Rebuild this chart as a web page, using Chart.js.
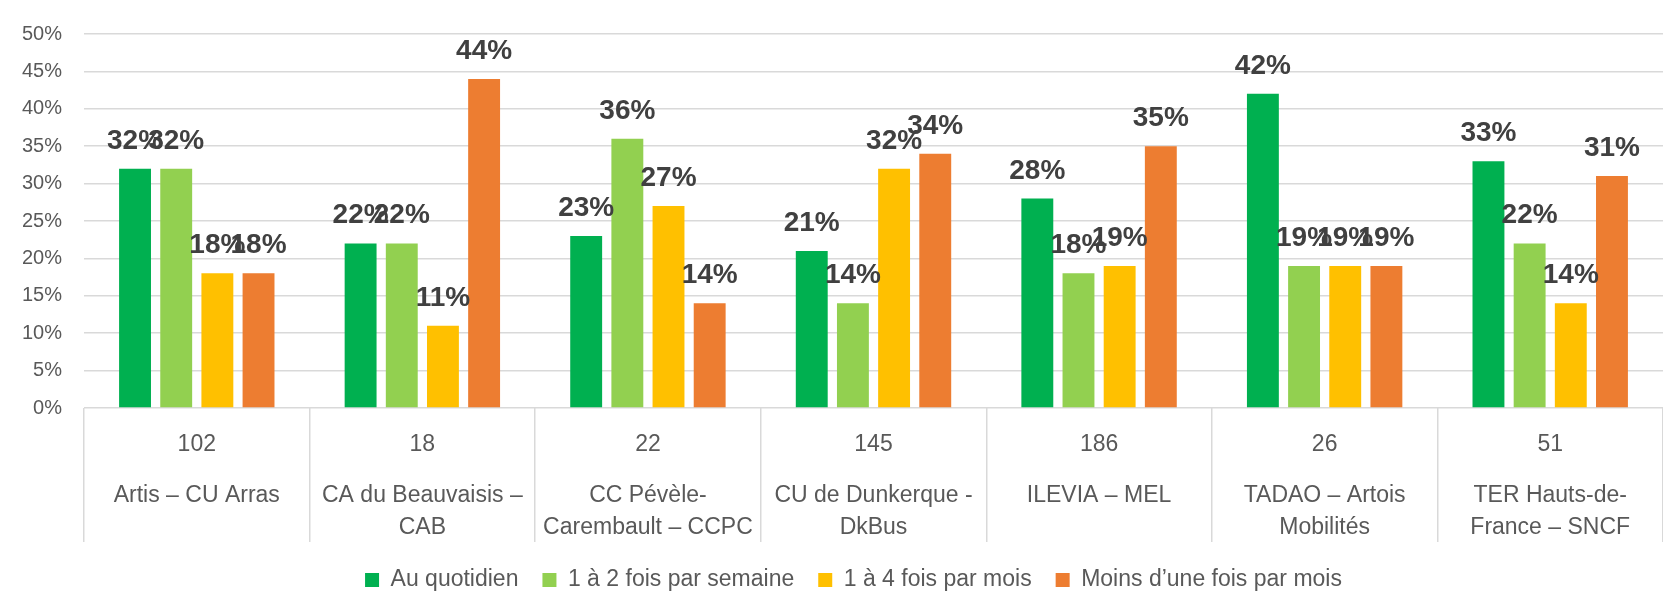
<!DOCTYPE html>
<html>
<head>
<meta charset="utf-8">
<script src="https://cdn.jsdelivr.net/npm/chart.js@4/dist/chart.umd.min.js"></script>
<style>
    html, body { margin: 0; padding: 0; background: #ffffff; }
    #wrap { width: 1663px; height: 591px; }
</style>
</head>
<body>
<div id="wrap"><canvas id="chart"></canvas></div>
<script>
const respondents = ['102', '18', '22', '145', '186', '26', '51'];
const networks = [
    'Artis – CU Arras',
    ['CA du Beauvaisis –', 'CAB'],
    ['CC Pévèle-', 'Carembault – CCPC'],
    ['CU de Dunkerque -', 'DkBus'],
    'ILEVIA – MEL',
    ['TADAO – Artois', 'Mobilités'],
    ['TER Hauts-de-', 'France – SNCF']
];
const seriesNames = ['Au quotidien', '1 à 2 fois par semaine', '1 à 4 fois par mois', 'Moins d\u2019une fois par mois'];
const daily   = [32, 22, 23, 21, 28, 42, 33];
const weekly  = [32, 22, 36, 14, 18, 19, 22];
const monthly = [18, 11, 27, 32, 19, 19, 14];
const rarely  = [18, 44, 14, 34, 35, 19, 31];
const yTicks = [0, 5, 10, 15, 20, 25, 30, 35, 40, 45, 50];

const colors = ['#00B050', '#92D050', '#FFC000', '#ED7D31'];
const font = "'Liberation Sans', Arial, sans-serif";
const gridColor = '#d9d9d9';

// values printed above each bar
const barLabels = {
    id: 'barLabels',
    afterDatasetsDraw(chart) {
        const ctx = chart.ctx;
        ctx.save();
        ctx.font = 'bold 28px ' + font;
        ctx.fillStyle = '#404040';
        ctx.textAlign = 'center';
        ctx.textBaseline = 'alphabetic';
        chart.data.datasets.forEach((ds, i) => {
            chart.getDatasetMeta(i).data.forEach((bar, j) => {
                ctx.fillText(ds.data[j] + '%', bar.x, bar.y - 20);
            });
        });
        ctx.restore();
    }
};

// legend without the extra space Chart.js keeps below it, nudged right
const tightLegend = {
    id: 'tightLegend',
    beforeLayout(chart) {
        const lg = chart.legend;
        if (lg && !lg._tight) {
            const fit = lg.fit;
            lg.fit = function() {
                fit.call(this);
                this.height -= 10.5;
            };
            lg._tight = true;
        }
    },
    afterLayout(chart) {
        if (chart.legend) {
            chart.legend.left += 44;
        }
    }
};

new Chart(document.getElementById('chart'), {
    type: 'bar',
    plugins: [barLabels, tightLegend],
    data: {
        labels: respondents,
        datasets: [daily, weekly, monthly, rarely].map((d, i) => ({
            label: seriesNames[i],
            data: d,
            backgroundColor: colors[i],
            categoryPercentage: 0.73,
            barPercentage: 0.775
        }))
    },
    options: {
        responsive: true,
        maintainAspectRatio: false,
        animation: false,
        layout: {
            padding: { top: 19, left: 0, right: 0, bottom: 0 }
        },
        plugins: {
            tooltip: { enabled: false },
            legend: {
                position: 'bottom',
                labels: {
                    boxWidth: 14,
                    boxHeight: 14,
                    padding: 24,
                    color: '#595959',
                    font: { family: font, size: 23 }
                }
            }
        },
        scales: {
            y: {
                min: 0,
                max: 50,
                afterBuildTicks(scale) {
                    scale.ticks = yTicks.map(v => ({ value: v }));
                },
                ticks: {
                    padding: 22,
                    color: '#595959',
                    font: { family: font, size: 20 },
                    callback: v => v + '%'
                },
                grid: {
                    color: gridColor,
                    lineWidth: 1.5,
                    drawTicks: false
                },
                border: { display: false },
                afterFit(scale) {
                    scale.width = 84;
                }
            },
            x: {
                weight: 0,
                offset: true,
                ticks: {
                    padding: -111,
                    autoSkip: false,
                    maxRotation: 0,
                    color: '#595959',
                    font: { family: font, size: 23, lineHeight: 1.2 }
                },
                grid: {
                    offset: true,
                    drawOnChartArea: false,
                    drawTicks: true,
                    tickLength: 134,
                    lineWidth: 1.5,
                    color: ctx => ctx.index === respondents.length ? 'rgba(0,0,0,0)' : gridColor
                },
                border: { display: false },
                afterFit(scale) {
                    scale.height = 48;
                }
            },
            x2: {
                type: 'category',
                position: 'bottom',
                weight: 1,
                labels: networks,
                offset: true,
                ticks: {
                    padding: 24,
                    autoSkip: false,
                    maxRotation: 0,
                    color: '#595959',
                    font: { family: font, size: 23, lineHeight: 32 / 23 }
                },
                grid: { display: false, drawTicks: false },
                border: { display: false },
                afterFit(scale) {
                    scale.height = 88.5;
                }
            }
        }
    }
});
</script>
</body>
</html>
